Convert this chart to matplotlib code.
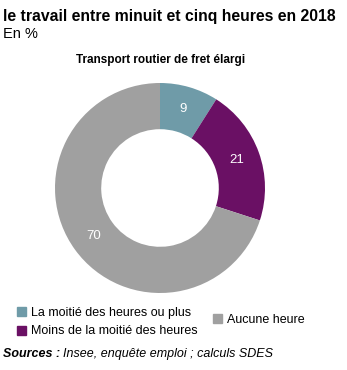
import matplotlib
matplotlib.use("Agg")
from matplotlib import pyplot as plt
from matplotlib.patches import Patch

plt.rcParams['font.family'] = ['Liberation Sans', 'DejaVu Sans']

labels = ["La moitié des heures ou plus", "Moins de la moitié des heures", "Aucune heure"]
values = [9, 21, 70]
colors = ['#6f9ba8', '#6a1064', '#a0a0a0']

W, H = 347, 370
fig = plt.figure(figsize=(W / 100, H / 100), dpi=100)

# donut
ax = fig.add_axes([55 / W, (H - 293) / H, 210 / W, 210 / H])
wedges, _, autotexts = ax.pie(values, colors=colors, startangle=90, counterclock=False,
                              radius=1, autopct=lambda p: '%d' % round(p),
                              pctdistance=0.78, wedgeprops=dict(width=0.44))
for t in autotexts:
    t.set_color('white')
    t.set_fontsize(9.5)
ax.set_xlim(-1, 1)
ax.set_ylim(-1, 1)
ax.set_aspect('equal')
ax.axis('off')

# texts
fig.text(3 / W, 1 - 17 / H, "le travail entre minuit et cinq heures en 2018",
         fontsize=11.3, fontweight='bold', va='center', ha='left')
fig.text(3 / W, 1 - 34 / H, "En %", fontsize=10.5, va='center', ha='left')
fig.text(161 / W, 1 - 60 / H, "Transport routier de fret élargi",
         fontsize=8.5, fontweight='bold', va='center', ha='center')

# legend
h = [Patch(color=c) for c in colors]
fig.legend(h[:2], labels[:2], loc='center left', bbox_to_anchor=(12 / W, 1 - 322 / H),
           frameon=False, fontsize=9, handlelength=0.75, handleheight=0.75,
           handletextpad=0.4, labelspacing=0.55, borderaxespad=0)
fig.legend(h[2:], labels[2:], loc='center left', bbox_to_anchor=(208 / W, 1 - 320 / H),
           frameon=False, fontsize=9, handlelength=0.75, handleheight=0.75,
           handletextpad=0.4, borderaxespad=0)

t1 = fig.text(3 / W, 1 - 354 / H, "Sources :", fontsize=9, fontweight='bold',
              style='italic', va='center', ha='left')
fig.canvas.draw()
bb = t1.get_window_extent()
fig.text(bb.x1 / W + 3 / W, 1 - 354 / H, "Insee, enquête emploi ; calculs SDES",
         fontsize=9, style='italic', va='center', ha='left')

fig.savefig("out.png", dpi=100)
